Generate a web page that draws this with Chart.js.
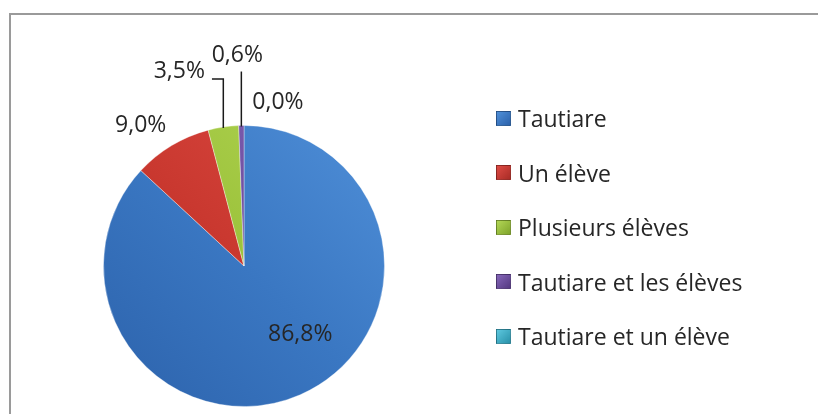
<!DOCTYPE html>
<html>
<head>
<meta charset="utf-8">
<script src="https://cdn.jsdelivr.net/npm/chart.js@4.4.0/dist/chart.umd.min.js"></script>
<style>
    body { margin: 0; background: #fff; width: 818px; height: 414px; overflow: hidden; position: relative; font-family: "Open Sans", sans-serif; }
    #frame { position: absolute; left: 9px; top: 13px; width: 820px; height: 420px; border-left: 2px solid #9a9a9a; border-top: 2px solid #9a9a9a; box-sizing: border-box; }
    #chartWrap { position: absolute; left: 0; top: 0; width: 818px; height: 414px; }
    #legend { position: absolute; left: 496px; top: 91px; }
    .item { height: 54.5px; display: flex; align-items: center; font-size: 23px; color: #262626; white-space: nowrap; }
    .box { width: 15px; height: 15px; margin-right: 7px; box-sizing: border-box; border: 1px solid rgba(0,0,0,0.25); }
</style>
</head>
<body>
<div id="frame"></div>
<div id="chartWrap"><canvas id="pieChart" width="818" height="414"></canvas></div>
<div id="legend"></div>

<script>
// data
const categories = ['Tautiare', 'Un élève', 'Plusieurs élèves', 'Tautiare et les élèves', 'Tautiare et un élève'];
const shares = [86.8, 9.0, 3.5, 0.6, 0.0];
const labelTexts = ['86,8%', '9,0%', '3,5%', '0,6%', '0,0%'];

const colors = ['#3a77c2', '#c9382f', '#9cc23b', '#6a4a9c', '#3badc7'];
const lightColors = ['#4f8fd8', '#de4b44', '#b2d655', '#8566b8', '#5cc7de'];
const darkColors = ['#2c62ab', '#a92c26', '#80a52c', '#553a82', '#2a92aa'];

// label placement relative to the outer midpoint of each slice
const labelOffsets = [[0, -60], [-31, -20], [-44, -56], [-4, -70], [34, -23]];
const leaderType = [null, null, 'elbow', 'vertical', null];

const fontSpec = '23px "Open Sans", sans-serif';

// legend built from the same arrays
const legendEl = document.getElementById('legend');
legendEl.innerHTML = categories.map((name, i) => `
    <div class="item"><span class="box" style="background: linear-gradient(135deg, ${lightColors[i]}, ${darkColors[i]});"></span>${name}</div>
`).join('');

const sliceFill = (ctx) => {
    const chart = ctx.chart;
    const area = chart.chartArea;
    if (!area) return colors[ctx.dataIndex];
    const g = chart.ctx.createLinearGradient(area.right, area.top, area.left, area.bottom);
    g.addColorStop(0, lightColors[ctx.dataIndex]);
    g.addColorStop(0.5, colors[ctx.dataIndex]);
    g.addColorStop(1, darkColors[ctx.dataIndex]);
    return g;
};

const pieLabels = {
    id: 'pieLabels',
    afterDatasetsDraw(chart) {
        const ctx = chart.ctx;
        const meta = chart.getDatasetMeta(0);
        ctx.save();
        ctx.font = fontSpec;
        ctx.fillStyle = '#262626';
        ctx.textAlign = 'center';
        ctx.textBaseline = 'middle';
        meta.data.forEach((arc, i) => {
            const { x, y, startAngle, endAngle, outerRadius } = arc.getProps(['x', 'y', 'startAngle', 'endAngle', 'outerRadius'], true);
            const mid = (startAngle + endAngle) / 2;
            const ox = x + Math.cos(mid) * outerRadius;
            const oy = y + Math.sin(mid) * outerRadius;
            const lx = ox + labelOffsets[i][0];
            const ly = oy + labelOffsets[i][1];
            const w = ctx.measureText(labelTexts[i]).width;

            if (leaderType[i]) {
                ctx.strokeStyle = '#1a1a1a';
                ctx.lineWidth = 1.5;
                ctx.beginPath();
                ctx.moveTo(ox, oy + 1);
                if (leaderType[i] === 'elbow') {
                    ctx.lineTo(ox, ly + 8);
                    ctx.lineTo(lx + w / 2 + 7, ly + 8);
                } else {
                    ctx.lineTo(ox, ly + 16);
                }
                ctx.stroke();
            }
            ctx.fillText(labelTexts[i], lx, ly);
        });
        ctx.restore();
    }
};

new Chart(document.getElementById('pieChart'), {
    type: 'pie',
    data: {
        labels: categories,
        datasets: [{
            data: shares,
            backgroundColor: sliceFill,
            borderColor: 'rgba(255,255,255,0.35)',
            borderWidth: 1,
        }]
    },
    options: {
        responsive: false,
        animation: false,
        layout: { padding: { left: 102, right: 432, top: 125, bottom: 7 } },
        plugins: {
            legend: { display: false },
            tooltip: { enabled: false },
        },
    },
    plugins: [pieLabels],
});
</script>
</body>
</html>
